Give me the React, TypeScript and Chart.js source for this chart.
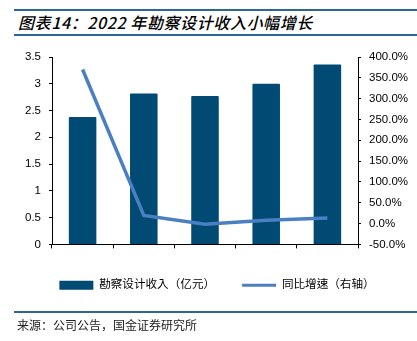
import React, { useEffect, useRef } from "react";
import { Chart, registerables } from "chart.js";

Chart.register(...registerables);

const categories = ["2018年", "2019年", "2020年", "2021年", "2022年"];
const revenue = [2.38, 2.82, 2.77, 3.0, 3.36];
const growth = [370, 19.5, -1.6, 8.0, 13.5];
const revenueLabel = "勘察设计收入（亿元）";
const growthLabel = "同比增速（右轴）";
const titleText = "图表14：2022 年勘察设计收入小幅增长";
const sourceText = "来源：公司公告，国金证券研究所";

const BAR_COLOR = "#004A74";
const LINE_COLOR = "#4A80C2";
const RULE_COLOR = "#2C6790";
const FONT = "'Liberation Sans', 'Noto Sans CJK SC', sans-serif";
const LEGEND_FONT = "'Liberation Sans', 'Noto Sans CJK TC', sans-serif";

export default function App() {
  const ref = useRef<HTMLCanvasElement | null>(null);

  useEffect(() => {
    if (!ref.current) return;
    const chart = new Chart(ref.current, {
      type: "bar",
      data: {
        labels: categories,
        datasets: [
          {
            type: "bar",
            label: revenueLabel,
            data: revenue,
            backgroundColor: BAR_COLOR,
            borderRadius: 1,
            yAxisID: "y",
            order: 2,
            categoryPercentage: 1,
            barPercentage: 0.45,
          },
          {
            type: "line",
            label: growthLabel,
            data: growth,
            borderColor: LINE_COLOR,
            backgroundColor: LINE_COLOR,
            borderWidth: 3.5,
            pointRadius: 0,
            yAxisID: "y1",
            order: 1,
            tension: 0,
          },
        ],
      },
      options: {
        animation: false,
        responsive: false,
        devicePixelRatio: 1,
        layout: { padding: { left: 17, right: 0, top: 57, bottom: 40 } },
        plugins: {
          title: { display: false },
          tooltip: { enabled: false },
          legend: {
            position: "bottom",
            labels: {
              font: { family: LEGEND_FONT, size: 11.6 },
              color: "#000",
              padding: 27,
              boxWidth: 34,
              boxHeight: 9,
              usePointStyle: true,
              pointStyleWidth: 34,
              sort: (a: any, b: any) => a.datasetIndex - b.datasetIndex,
              generateLabels: () => [
                {
                  text: revenueLabel,
                  fillStyle: BAR_COLOR,
                  strokeStyle: BAR_COLOR,
                  lineWidth: 0,
                  pointStyle: "rect",
                  datasetIndex: 0,
                  hidden: false,
                },
                {
                  text: growthLabel,
                  fillStyle: LINE_COLOR,
                  strokeStyle: LINE_COLOR,
                  lineWidth: 3,
                  pointStyle: "line",
                  datasetIndex: 1,
                  hidden: false,
                },
              ],
            },
          },
        },
        scales: {
          x: {
            offset: true,
            afterFit: (s: any) => {
              s.height = 8;
            },
            grid: {
              offset: true,
              drawOnChartArea: false,
              drawTicks: true,
              tickLength: 4,
              color: "#000",
            },
            border: { display: true, color: "#000", width: 1 },
            ticks: {
              font: { family: FONT, size: 12 },
              color: "#000",
              padding: 9,
              maxRotation: 0,
            },
          },
          y: {
            position: "left",
            min: 0,
            max: 3.5,
            afterFit: (s: any) => {
              s.width = 35;
            },
            grid: {
              drawOnChartArea: false,
              drawTicks: true,
              tickLength: 3,
              color: "#000",
            },
            border: { display: true, color: "#000", width: 1 },
            ticks: {
              stepSize: 0.5,
              font: { family: FONT, size: 11.5 },
              color: "#000",
              padding: 8,
              callback: (v: any) => String(v),
            },
          },
          y1: {
            position: "right",
            min: -50,
            max: 400,
            afterFit: (s: any) => {
              s.width = 59;
            },
            grid: {
              drawOnChartArea: false,
              drawTicks: true,
              tickLength: 3,
              color: "#000",
            },
            border: { display: true, color: "#000", width: 1 },
            ticks: {
              stepSize: 50,
              font: { family: FONT, size: 11.5 },
              color: "#000",
              padding: 8,
              callback: (v: any) => Number(v).toFixed(1) + "%",
            },
          },
        },
      },
    });
    return () => chart.destroy();
  }, []);

  return (
    <div
      style={{
        position: "fixed",
        left: 0,
        top: 0,
        width: 417,
        height: 341,
        background: "#fff",
        overflow: "hidden",
      }}
    >
      <div
        style={{
          position: "absolute",
          left: 14,
          right: 0,
          top: 9,
          height: 0,
          borderTop: `2px solid ${RULE_COLOR}`,
        }}
      />
      <div
        style={{
          position: "absolute",
          left: 18,
          top: 12,
          fontFamily: "'Noto Sans CJK SC', sans-serif",
          fontStyle: "italic",
          fontWeight: 500,
          fontSize: 16,
          letterSpacing: 0.6,
          lineHeight: "20px",
          color: "#000",
          whiteSpace: "nowrap",
        }}
      >
        {titleText}
      </div>
      <div
        style={{
          position: "absolute",
          left: 14,
          right: 0,
          top: 34,
          height: 0,
          borderTop: `2px solid ${RULE_COLOR}`,
        }}
      />
      <canvas
        ref={ref}
        width={417}
        height={341}
        style={{ position: "absolute", left: 0, top: 0, width: 417, height: 341 }}
      />
      <div
        style={{
          position: "absolute",
          left: 14,
          right: 0,
          top: 311,
          height: 0,
          borderTop: `2px solid ${RULE_COLOR}`,
        }}
      />
      <div
        style={{
          position: "absolute",
          left: 17,
          top: 317,
          fontFamily: "'Noto Sans CJK SC', serif",
          fontSize: 12,
          lineHeight: "16px",
          color: "#222",
          whiteSpace: "nowrap",
        }}
      >
        {sourceText}
      </div>
    </div>
  );
}
